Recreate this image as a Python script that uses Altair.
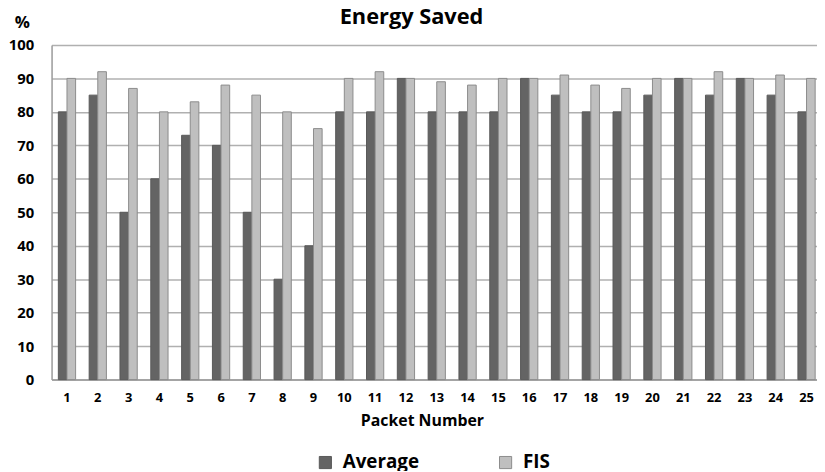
import altair as alt
import pandas as pd

packets = list(range(1, 26))
average = [80, 85, 50, 60, 73, 70, 50, 30, 40, 80, 80, 90, 80, 80, 80, 90, 85, 80, 80, 85, 90, 85, 90, 85, 80]
fis = [90, 92, 87, 80, 83, 88, 85, 80, 75, 90, 92, 90, 89, 88, 90, 90, 91, 88, 87, 90, 90, 92, 90, 91, 90]
series = ["Average", "FIS"]
fill_colors = ["#646464", "#bfbfbf"]
stroke_colors = ["#595959", "#8c8c8c"]

rows = []
for p, a, f in zip(packets, average, fis):
    rows.append({"packet": p, "series": "Average", "value": a})
    rows.append({"packet": p, "series": "FIS", "value": f})
df = pd.DataFrame(rows)

FONT = "Open Sans"

chart = alt.Chart(df).mark_bar(strokeWidth=1).encode(
    x=alt.X("packet:O", sort=packets,
            scale=alt.Scale(paddingInner=0.44, paddingOuter=0.22, range=[0, 778]),
            axis=alt.Axis(title="Packet Number", labelAngle=0, ticks=False,
                          labelFont=FONT, labelFontSize=13, labelFontWeight="bold",
                          labelColor="black", labelPadding=12,
                          titleFont=FONT, titleFontSize=16, titleFontWeight="bold",
                          titleColor="black", titleX=374, titleY=41,
                          titleAnchor="middle", titleAlign="center", titleBaseline="middle",
                          domainColor="#9a9a9a", domainWidth=1.5, grid=False)),
    xOffset=alt.XOffset("series:N", sort=series),
    y=alt.Y("value:Q", scale=alt.Scale(domain=[0, 100], nice=False),
            axis=alt.Axis(title="%", values=list(range(0, 101, 10)), ticks=False,
                          labelFont=FONT, labelFontSize=15, labelFontWeight="bold",
                          labelColor="black", labelPadding=18,
                          titleFont=FONT, titleFontSize=17, titleFontWeight="bold",
                          titleColor="black", titleAngle=0, titleX=-30, titleY=-23,
                          titleAlign="center", titleBaseline="middle",
                          domainColor="#9a9a9a", domainWidth=1.5,
                          gridColor="#b0b0b0", gridWidth=1.5)),
    color=alt.Color("series:N", sort=series,
                    scale=alt.Scale(domain=series, range=fill_colors),
                    legend=alt.Legend(title=None, orient="none", direction="horizontal",
                                      legendX=267, legendY=412, symbolType="square",
                                      symbolSize=150, symbolStrokeWidth=1,
                                      labelFont=FONT, labelFontSize=19, labelFontWeight="bold",
                                      labelColor="black", columnPadding=77, labelOffset=8)),
    stroke=alt.Stroke("series:N", sort=series,
                      scale=alt.Scale(domain=series, range=stroke_colors),
                      legend=None),
).properties(
    width=773,
    height=338,
    title=alt.TitleParams("Energy Saved", font=FONT, fontSize=22, fontWeight="bold",
                          color="black", anchor="middle", dx=-23, offset=0, dy=16),
    autosize=alt.AutoSizeParams(type="none"),
    padding={"left": 44, "top": 35, "right": 0, "bottom": 90},
).configure_view(stroke=None)

chart.save("out.html", embed_options={"renderer": "svg", "actions": False})
